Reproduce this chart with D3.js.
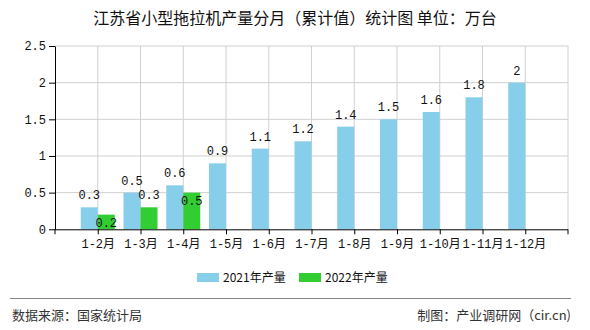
<!DOCTYPE html>
<html><head><meta charset="utf-8">
<script src="https://cdn.jsdelivr.net/npm/d3@7/dist/d3.min.js"></script>
<style>body{margin:0;background:#fff}svg{display:block}</style>
</head><body>
<svg id="c" width="590" height="330"></svg>
<script>
const categories = ["1-2月","1-3月","1-4月","1-5月","1-6月","1-7月","1-8月","1-9月","1-10月","1-11月","1-12月"];
const values2021 = [0.3,0.5,0.6,0.9,1.1,1.2,1.4,1.5,1.6,1.8,2];
const values2022 = [0.2,0.3,0.5];
const yTicks = [0,0.5,1,1.5,2,2.5];
const seriesNames = ["2021年产量","2022年产量"];
const colors = ["#87CEEB","#32CD32"];
const title = "江苏省小型拖拉机产量分月（累计值）统计图 单位：万台";

const svg = d3.select("#c");
const mono = "'Liberation Mono','DejaVu Sans Mono','Noto Sans CJK SC',monospace";
const cjk = "'Noto Sans CJK SC',sans-serif";
const L = 55, R = 568, T = 46, B = 229.3;
const x = d3.scalePoint().domain(categories).range([L, R]).padding(1);
const y = d3.scaleLinear().domain([0, 2.5]).range([B, T]);
const bw = 17;

svg.append("text").attr("x", 295).attr("y", 24).attr("text-anchor", "middle")
  .attr("font-family", cjk).attr("font-size", 16).attr("fill", "#111").text(title);

// grid
const g = svg.append("g");
g.selectAll(".hg").data(yTicks.filter(d => d > 0)).join("line")
  .attr("x1", L).attr("x2", R).attr("y1", d => y(d)).attr("y2", d => y(d))
  .attr("stroke", "#d0d0d0").attr("stroke-width", 1);
const vt = categories.map(c => x(c)).concat([R]);
g.selectAll(".vg").data(vt).join("line")
  .attr("x1", d => d).attr("x2", d => d).attr("y1", T).attr("y2", B)
  .attr("stroke", "#d0d0d0").attr("stroke-width", 1);

// bars
g.selectAll(".b1").data(values2021).join("rect")
  .attr("x", (d, i) => x(categories[i]) - bw).attr("y", d => y(d))
  .attr("width", bw).attr("height", d => B - y(d)).attr("fill", colors[0]);
g.selectAll(".b2").data(values2022).join("rect")
  .attr("x", (d, i) => x(categories[i])).attr("y", d => y(d))
  .attr("width", bw).attr("height", d => B - y(d)).attr("fill", colors[1]);

// labels
const lab = svg.append("g").attr("font-family", mono).attr("font-size", 12).attr("fill", "#111").attr("text-anchor", "middle");
lab.selectAll(".l1").data(values2021).join("text")
  .attr("x", (d, i) => x(categories[i]) - bw / 2).attr("y", d => y(d) - 8).text(d => d);
lab.selectAll(".l2").data(values2022).join("text")
  .attr("x", (d, i) => x(categories[i]) + bw / 2)
  .attr("y", (d, i) => {
    const above = y(d) - 8, blue = y(values2021[i]) - 8;
    return Math.abs(above - blue) < 14 ? y(d) + 12 : above;
  }).text(d => d);

// axes
const xa = svg.append("g").attr("transform", `translate(0,${B})`)
  .call(d3.axisBottom(x).tickSize(5).tickSizeOuter(0));
xa.select(".domain").attr("d", `M${L},0.5H${R}`).attr("stroke", "#000");
xa.append("line").attr("x1", L).attr("x2", L).attr("y1", 0).attr("y2", 5).attr("stroke", "#000");
xa.append("line").attr("x1", R).attr("x2", R).attr("y1", 0).attr("y2", 5).attr("stroke", "#000");
xa.selectAll(".tick text").attr("font-family", mono).attr("font-size", 12).attr("fill", "#111").attr("dy", "0.9em");

const ya = svg.append("g").attr("transform", `translate(${L},0)`)
  .call(d3.axisLeft(y).tickValues(yTicks).tickSize(6).tickSizeOuter(0).tickFormat(d => d));
ya.select(".domain").attr("stroke", "#000");
ya.selectAll(".tick text").attr("font-family", mono).attr("font-size", 12).attr("fill", "#111").attr("x", -9);

// legend
const lg = svg.append("g").attr("font-family", cjk).attr("font-size", 12).attr("fill", "#111");
const lx = [197, 299];
seriesNames.forEach((n, i) => {
  lg.append("rect").attr("x", lx[i]).attr("y", 273).attr("width", 22).attr("height", 9).attr("fill", colors[i]);
  lg.append("text").attr("x", lx[i] + 26).attr("y", 282).text(n);
});

// footer
svg.append("line").attr("x1", 10).attr("x2", 571).attr("y1", 298.5).attr("y2", 298.5).attr("stroke", "#888").attr("stroke-width", 1.2);
svg.append("text").attr("x", 12).attr("y", 320).attr("font-family", cjk).attr("font-size", 13).attr("fill", "#333").text("数据来源：国家统计局");
svg.append("text").attr("x", 571).attr("y", 320).attr("text-anchor", "end").attr("font-family", cjk).attr("font-size", 13).attr("fill", "#333").text("制图：产业调研网（cir.cn)");
</script>
</body></html>
